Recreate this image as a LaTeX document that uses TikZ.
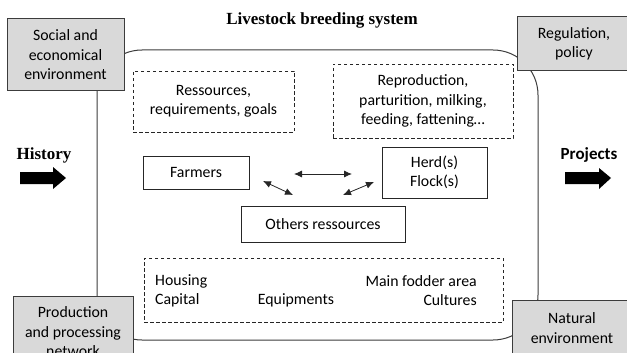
\documentclass[tikz,border=0pt]{standalone}
\usepackage{fontspec}
\setmainfont{Liberation Serif}
\setsansfont{Carlito}
\usetikzlibrary{arrows.meta}
\definecolor{boxgray}{RGB}{217,217,217}
\definecolor{linegray}{RGB}{60,60,60}
\tikzset{
  boxfont/.style={font=\sffamily\fontsize{15.8}{19.5}\selectfont},
  sysframe/.style={draw=linegray, line width=1pt, rounded corners=45pt, minimum width=441pt, minimum height=290pt, inner sep=0pt},
  graybox/.style={boxfont, draw=linegray, line width=1pt, fill=boxgray, align=center, inner sep=0pt},
  dashbox/.style={boxfont, draw=black!85, line width=0.8pt, dash pattern=on 3.5pt off 2.5pt, align=center, inner sep=0pt},
  solidbox/.style={boxfont, draw=black!85, line width=0.8pt, align=center, inner sep=0pt},
  plaintext/.style={boxfont, inner sep=0pt},
  twoway/.style={{Latex[length=8pt,width=7pt]}-{Latex[length=8pt,width=7pt]}, line width=0.8pt, black!85},
}
\begin{document}
\begin{tikzpicture}[x=1pt,y=-1pt]
\useasboundingbox (0,0) rectangle (627,353);
\clip (0,0) rectangle (627,353);
% system frame
\node[sysframe] (sys) at (317.5,195) {};
% title
\node[font=\bfseries\fontsize{17}{20}\selectfont, inner sep=0pt] (title) at (322,20) {Livestock breeding system};
% gray environment boxes
\node[graybox, minimum width=117pt, minimum height=72pt] (social) at (65.5,55) {Social and\\economical\\environment};
\node[graybox, minimum width=114pt, minimum height=54pt] (regul) at (574,44) {Regulation,\\policy};
\node[graybox, minimum width=120pt, minimum height=72pt] (prod) at (73,332) {Production\\and processing\\network};
\node[graybox, minimum width=120pt, minimum height=56pt] (natural) at (572,328) {Natural\\environment};
% dashed boxes
\node[dashbox, minimum width=161pt, minimum height=61pt] (resgoal) at (213.5,101.5) {Ressources,\\requirements, goals};
\node[dashbox, minimum width=180pt, minimum height=74pt] (repro) at (423,101) {Reproduction,\\parturition, milking,\\feeding, fattening\dots};
\node[dashbox, minimum width=359pt, minimum height=64pt] (infra) at (323.5,290) {};
\node[plaintext, anchor=west] (housing) at (155,281) {Housing};
\node[plaintext, anchor=west] (capital) at (155,300) {Capital};
\node[plaintext] (equip) at (296,300) {Equipments};
\node[plaintext, anchor=east] (fodder) at (477,281) {Main fodder area};
\node[plaintext, anchor=east] (cultures) at (477,300) {Cultures};
% solid boxes
\node[solidbox, minimum width=106pt, minimum height=33pt] (farmers) at (196,172.5) {Farmers};
\node[solidbox, minimum width=105pt, minimum height=51pt] (herd) at (434.5,172.5) {Herd(s)\\Flock(s)};
\node[solidbox, minimum width=164pt, minimum height=36pt] (others) at (323,224) {Others ressources};
% interaction arrows
\coordinate (hA) at (294,174);
\coordinate (hB) at (352,174);
\coordinate (lA) at (263,181);
\coordinate (lB) at (293,195);
\coordinate (rA) at (343,195);
\coordinate (rB) at (374,182);
\draw[twoway] (hA) -- (hB);
\draw[twoway] (lA) -- (lB);
\draw[twoway] (rA) -- (rB);
% history / projects
\node[font=\bfseries\fontsize{17}{20}\selectfont, inner sep=0pt] (history) at (44,155) {History};
\node[font=\sffamily\bfseries\fontsize{17}{20}\selectfont, inner sep=0pt] (projects) at (589,155) {Projects};
\fill (20,172) -- (53,172) -- (53,167) -- (66,178) -- (53,189) -- (53,184) -- (20,184) -- cycle;
\fill (565,172) -- (599,172) -- (599,168) -- (611,178) -- (599,189) -- (599,184) -- (565,184) -- cycle;
\end{tikzpicture}
\end{document}
